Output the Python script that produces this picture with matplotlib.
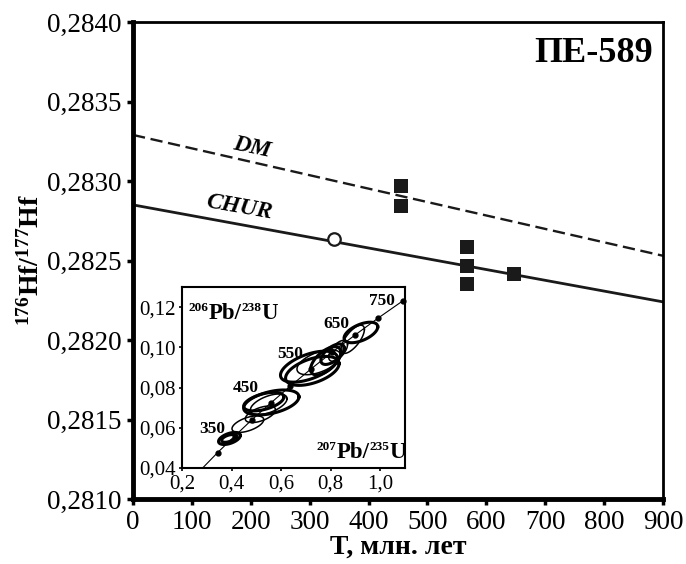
import numpy as np
import matplotlib
matplotlib.use('Agg')
import matplotlib.pyplot as plt
from matplotlib.ticker import FuncFormatter

plt.rcParams['font.family'] = ['Liberation Serif', 'DejaVu Serif']
plt.rcParams['mathtext.fontset'] = 'custom'
plt.rcParams['mathtext.rm'] = 'Liberation Serif'
plt.rcParams['mathtext.bf'] = 'Liberation Serif:bold'
plt.rcParams['mathtext.it'] = 'Liberation Serif:italic'

# main plot: reference lines (T, 176Hf/177Hf at ends)
chur_t = [0, 900]
chur_hf = [0.28285, 0.28224]
dm_t = [0, 900]
dm_hf = [0.28329, 0.28253]

# zircon data
circle_t = [341]
circle_hf = [0.282635]
square_t = [455, 455, 567, 567, 567, 647]
square_hf = [0.28297, 0.282846, 0.282587, 0.282465, 0.282355, 0.282418]

# inset: concordia nodes (207Pb/235U, 206Pb/238U) by age, Ma
conc_age = [200, 250, 300, 350, 400, 450, 500, 550, 600, 650, 700, 750]
conc_x = [0.218, 0.280, 0.344, 0.412, 0.482, 0.558, 0.637, 0.719, 0.805, 0.897, 0.992, 1.092]
conc_y = [0.0315, 0.0396, 0.0477, 0.0558, 0.0640, 0.0723, 0.0807, 0.0891, 0.0975, 0.1060, 0.1146, 0.1232]
dot_ages = [300, 350, 400, 450, 500, 550, 600, 650, 700, 750]
label_ages = [350, 450, 550, 650, 750]
label_x = [0.321, 0.459, 0.638, 0.822, 1.005]
label_y = [0.0593, 0.0798, 0.0966, 0.1114, 0.1230]

# error ellipses: centre, half-range in x and y, correlation
ell_cx = [0.3915, 0.388, 0.4658, 0.5165, 0.5604, 0.530, 0.550, 0.7125, 0.726, 0.752, 0.780, 0.8075, 0.922, 0.889, 0.830]
ell_cy = [0.0547, 0.0547, 0.0618, 0.0667, 0.0726, 0.0730, 0.0717, 0.0904, 0.0883, 0.0926, 0.0933, 0.0966, 0.1074, 0.1040, 0.0983]
ell_sx = [0.044, 0.028, 0.064, 0.061, 0.1116, 0.081, 0.074, 0.115, 0.108, 0.088, 0.061, 0.047, 0.068, 0.047, 0.038]
ell_sy = [0.0030, 0.0019, 0.0041, 0.0041, 0.0062, 0.0046, 0.0051, 0.0077, 0.0072, 0.0062, 0.0070, 0.0051, 0.0051, 0.0070, 0.0052]
ell_rho = [0.5, 0.5, 0.55, 0.55, 0.45, 0.5, 0.55, 0.55, 0.5, 0.55, 0.6, 0.6, 0.55, 0.7, 0.6]
ell_thick = [1, 1, 0, 0, 1, 1, 0, 1, 1, 0, 1, 1, 1, 0, 0]


def iso_label(axis, x, y, parts):
    # parts: (text, is_superscript); pieces chained left to right
    prev = None
    for txt, sup in parts:
        size = 9.5 if sup else 16.5
        if prev is None:
            prev = axis.text(x, y, txt, transform=axis.transAxes, fontsize=size,
                             fontweight='bold', ha='left', va='baseline')
            continue
        dy = 7.5 if sup else -7.5
        prev = axis.annotate(txt, xy=(1, 0), xycoords=prev, xytext=(0, dy),
                             textcoords='offset points', fontsize=size,
                             fontweight='bold', ha='left', va='bottom')


fig = plt.figure(figsize=(6.86, 5.64), dpi=100)
ax = fig.add_axes([0.1939, 0.1152, 0.7726, 0.8457])

ax.plot(dm_t, dm_hf, color='#1a1a1a', lw=1.7, linestyle=(0, (5.2, 2.4)))
ax.plot(chur_t, chur_hf, color='#1a1a1a', lw=2.0)
ax.plot(square_t, square_hf, 's', color='#1a1a1a', markersize=10.5, markeredgewidth=0)
ax.plot(circle_t, circle_hf, 'o', mfc='white', mec='#1a1a1a', markersize=9, markeredgewidth=1.6)

ax.text(202, 0.28321, 'DM', fontsize=17, fontweight='bold', fontstyle='italic',
        rotation=-12, ha='center', va='center')
ax.text(180, 0.282837, 'CHUR', fontsize=17, fontweight='bold', fontstyle='italic',
        rotation=-10, ha='center', va='center')
ax.text(0.98, 0.968, 'ПЕ-589', transform=ax.transAxes, fontsize=26, fontweight='bold',
        ha='right', va='top')

ax.set_xlim(0, 900)
ax.set_ylim(0.2810, 0.2840)
ax.set_xticks(np.arange(0, 901, 100))
ax.set_yticks([0.2810, 0.2815, 0.2820, 0.2825, 0.2830, 0.2835, 0.2840])
ax.yaxis.set_major_formatter(FuncFormatter(lambda v, p: ('%.4f' % v).replace('.', ',')))
ax.tick_params(direction='out', length=4, width=2.5, labelsize=19.5, pad=4)
for side in ['left', 'bottom']:
    ax.spines[side].set_linewidth(3.5)
for side in ['right', 'top']:
    ax.spines[side].set_linewidth(2.0)
ax.set_xlabel('T, млн. лет', fontsize=20, fontweight='bold', labelpad=0)
ax.set_ylabel(r'$\mathbf{^{176}Hf/^{177}Hf}$', fontsize=20, labelpad=2)

# inset concordia
ins = fig.add_axes([0.2653, 0.1702, 0.3251, 0.3209])
ins.plot(conc_x, conc_y, color='black', lw=0.8)
dx = [conc_x[conc_age.index(a)] for a in dot_ages]
dy = [conc_y[conc_age.index(a)] for a in dot_ages]
ins.plot(dx, dy, 'o', color='black', markersize=3.5, clip_on=False)

t = np.linspace(0, 2 * np.pi, 120)
for cx, cy, sx, sy, r, th in zip(ell_cx, ell_cy, ell_sx, ell_sy, ell_rho, ell_thick):
    ex = cx + sx * np.cos(t)
    ey = cy + sy * (r * np.cos(t) + np.sqrt(1 - r * r) * np.sin(t))
    ins.plot(ex, ey, color='black', lw=2.2 if th else 1.1)

for a, lx, ly in zip(label_ages, label_x, label_y):
    ins.text(lx, ly, str(a), fontsize=12.5, fontweight='bold', ha='center', va='center')

iso_label(ins, 0.03, 0.87, [('206', True), ('Pb/', False), ('238', True), ('U', False)])
iso_label(ins, 0.605, 0.10, [('207', True), ('Pb/', False), ('235', True), ('U', False)])

ins.set_xlim(0.2, 1.1)
ins.set_ylim(0.040, 0.130)
ins.set_xticks([0.2, 0.4, 0.6, 0.8, 1.0])
ins.set_yticks([0.04, 0.06, 0.08, 0.10, 0.12])
ins.xaxis.set_major_formatter(FuncFormatter(lambda v, p: ('%.1f' % v).replace('.', ',')))
ins.yaxis.set_major_formatter(FuncFormatter(lambda v, p: ('%.2f' % v).replace('.', ',')))
ins.tick_params(direction='out', length=2.5, width=1.2, labelsize=15, pad=2)
for s in ins.spines.values():
    s.set_linewidth(1.5)

fig.savefig('out.png', dpi=100)
